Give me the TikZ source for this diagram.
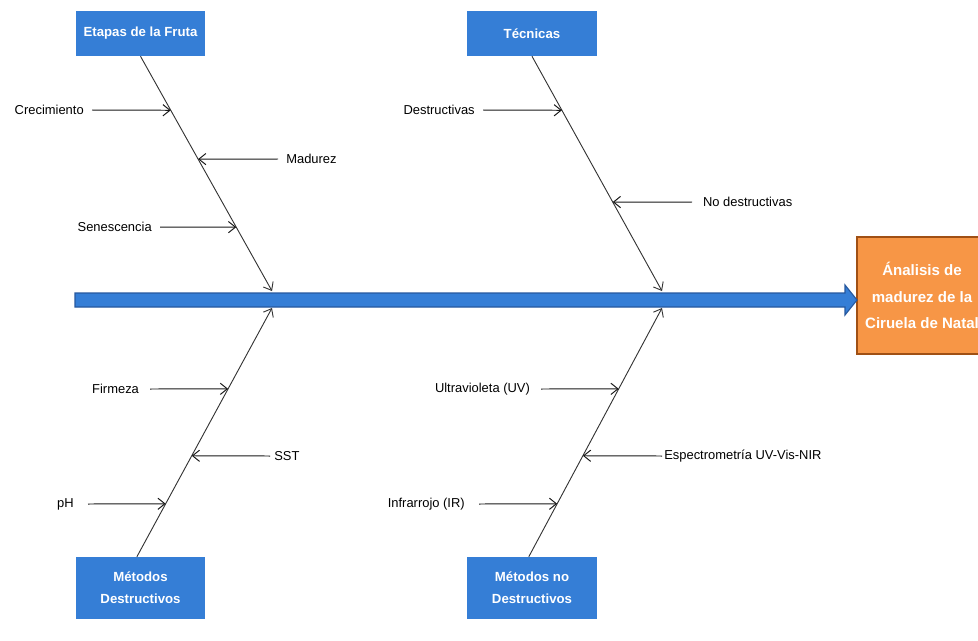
\documentclass[tikz,border=0pt]{standalone}
\usepackage{fontspec}
\setmainfont{Liberation Sans}
\usepackage{tikz}
\usetikzlibrary{calc,arrows.meta,positioning}

\definecolor{boxblue}{RGB}{53,126,214}
\definecolor{spineedge}{RGB}{38,88,158}
\definecolor{effectorange}{RGB}{247,150,70}
\definecolor{effectedge}{RGB}{160,80,20}

\tikzset{
  catbox/.style={fill=boxblue, text=white, align=center, inner sep=0pt,
    minimum width=3.225cm, minimum height=1.125cm,
    font=\bfseries\fontsize{9.4}{15.6}\selectfont},
  effectbox/.style={fill=effectorange, draw=effectedge, line width=2pt,
    text=white, align=center, inner sep=0pt,
    minimum width=3.25cm, minimum height=2.925cm,
    font=\bfseries\fontsize{10.7}{18.8}\selectfont},
  spine/.style={fill=boxblue, draw=spineedge, line width=0.8pt},
  bone/.style={draw=black!80, line width=0.65pt, -{Straight Barb[length=5pt,width=8pt]}},
  rib/.style={draw=black!90, line width=0.7pt, -{Straight Barb[length=5pt,width=8pt]}},
  cause/.style={inner xsep=0.2cm, inner ysep=1pt, font=\fontsize{9.2}{11}\selectfont}
}

\begin{document}
\begin{tikzpicture}[x=0.025cm,y=-0.025cm]
  \useasboundingbox (0,0) rectangle (978,640);
  \clip (0,0) rectangle (978,640);

  % categories and effect
  \node [catbox] (etapas) at (140.5,33.5) {Etapas de la Fruta};
  \node [catbox] (tecnicas) at (532,33.5) {Técnicas};
  \node [catbox, minimum height=1.55cm] (mdes) at (140.5,588) {Métodos\\Destructivos};
  \node [catbox, minimum height=1.55cm] (mnodes) at (532,588) {Métodos no\\Destructivos};
  \node [effectbox] (efecto) at (922,295.5) {Ánalisis de\\madurez de la\\Ciruela de Natal};

  % spine
  \coordinate (cola) at (75,300);
  \coordinate (punta) at (857,300);
  \draw [spine] ($(cola)+(0,-7)$) -- ($(punta)+(-12,-7)$) -- ($(punta)+(-12,-15)$)
    -- (punta) -- ($(punta)+(-12,15)$) -- ($(punta)+(-12,7)$) -- ($(cola)+(0,7)$) -- cycle;

  % bones
  \coordinate (bTL) at (272,291);
  \coordinate (bTR) at (662,291);
  \coordinate (bBL) at (272,308);
  \coordinate (bBR) at (662,308);
  \coordinate (sBL) at ([xshift=-0.09cm]mdes.north);
  \coordinate (sBR) at ([xshift=-0.08cm]mnodes.north);
  \draw [bone] (etapas.south) -- (bTL);
  \draw [bone] (tecnicas.south) -- (bTR);
  \draw [bone] (sBL) -- (bBL);
  \draw [bone] (sBR) -- (bBR);

  % causes: Etapas de la Fruta
  \node [cause, anchor=east] (crec) at (92,110) {Crecimiento};
  \node [cause, anchor=west] (madu) at (278,159) {Madurez};
  \node [cause, anchor=east] (sene) at (160,227) {Senescencia};
  \draw [rib] (crec.east) -- ($(etapas.south)!0.230!(bTL)$);
  \draw [rib] (madu.west) -- ($(etapas.south)!0.438!(bTL)$);
  \draw [rib] (sene.east) -- ($(etapas.south)!0.728!(bTL)$);

  % causes: Técnicas
  \node [cause, anchor=east] (dest) at (483,110) {Destructivas};
  \node [cause, anchor=west, inner xsep=0.27cm] (nodest) at (692,202) {No destructivas};
  \draw [rib] (dest.east) -- ($(tecnicas.south)!0.230!(bTR)$);
  \draw [rib] (nodest.west) -- ($(tecnicas.south)!0.621!(bTR)$);

  % causes: Métodos Destructivos
  \node [cause, anchor=east, inner xsep=0.27cm] (firm) at (150,389) {Firmeza};
  \node [cause, anchor=west, inner xsep=0.1cm] (sst) at (270,456) {SST};
  \node [cause, anchor=east, inner xsep=0.35cm] (ph) at (88,504) {pH};
  \draw [rib] (firm.east) -- ($(sBL)!0.675!(bBL)$);
  \draw [rib] (sst.west) -- ($(sBL)!0.406!(bBL)$);
  \draw [rib] (ph.east) -- ($(sBL)!0.213!(bBL)$);

  % causes: Métodos no Destructivos
  \node [cause, anchor=east, inner xsep=0.27cm] (uv) at (541,389) {Ultravioleta (UV)};
  \node [cause, anchor=west, inner xsep=0.05cm] (espec) at (662,456) {Espectrometría UV-Vis-NIR};
  \node [cause, anchor=east, inner xsep=0.35cm] (ir) at (479,504) {Infrarrojo (IR)};
  \draw [rib] (uv.east) -- ($(sBR)!0.675!(bBR)$);
  \draw [rib] (espec.west) -- ($(sBR)!0.406!(bBR)$);
  \draw [rib] (ir.east) -- ($(sBR)!0.213!(bBR)$);
\end{tikzpicture}
\end{document}
